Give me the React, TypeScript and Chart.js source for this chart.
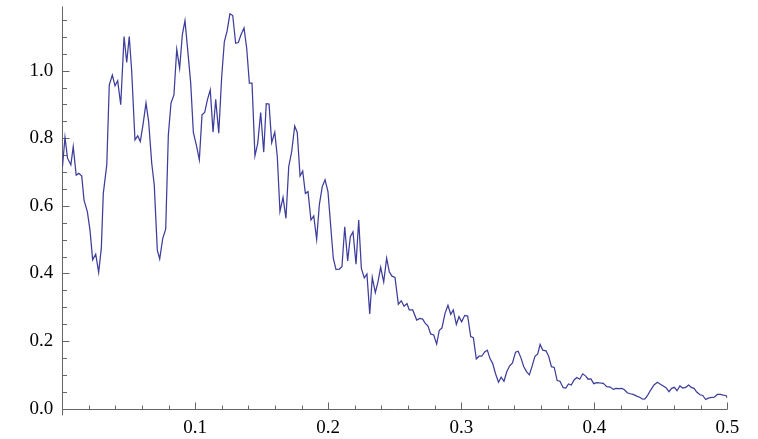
import React, { useEffect, useRef } from "react";
import { Chart, registerables } from "chart.js";

Chart.register(...registerables);

// ---- data ----
const xs: number[] = [
  0.0002, 0.0021, 0.0040, 0.0065, 0.0083, 0.0105, 0.0125, 0.0147, 0.0164, 0.0189,
  0.0209, 0.0229, 0.0252, 0.0274, 0.0294, 0.0309, 0.0335, 0.0354, 0.0377, 0.0397,
  0.0417, 0.0440, 0.0465, 0.0485, 0.0504, 0.0522, 0.0547, 0.0568, 0.0587, 0.0607,
  0.0630, 0.0650, 0.0673, 0.0692, 0.0715, 0.0733, 0.0756, 0.0778, 0.0798, 0.0818,
  0.0840, 0.0861, 0.0883, 0.0903, 0.0923, 0.0948, 0.0966, 0.0986, 0.1011, 0.1031,
  0.1051, 0.1071, 0.1091, 0.1113, 0.1134, 0.1154, 0.1177, 0.1199, 0.1219, 0.1239,
  0.1261, 0.1282, 0.1304, 0.1324, 0.1344, 0.1367, 0.1387, 0.1407, 0.1427, 0.1449,
  0.1470, 0.1492, 0.1515, 0.1534, 0.1555, 0.1575, 0.1598, 0.1617, 0.1637, 0.1660,
  0.1682, 0.1703, 0.1725, 0.1748, 0.1767, 0.1788, 0.1808, 0.1828, 0.1848, 0.1870,
  0.1891, 0.1913, 0.1933, 0.1955, 0.1976, 0.1998, 0.2019, 0.2038, 0.2058, 0.2083,
  0.2103, 0.2124, 0.2146, 0.2166, 0.2186, 0.2209, 0.2229, 0.2249, 0.2271, 0.2291,
  0.2312, 0.2331, 0.2354, 0.2374, 0.2394, 0.2417, 0.2439, 0.2459, 0.2479, 0.2502,
  0.2527, 0.2549, 0.2570, 0.2592, 0.2609, 0.2635, 0.2665, 0.2688, 0.2710, 0.2730,
  0.2750, 0.2770, 0.2793, 0.2815, 0.2835, 0.2855, 0.2878, 0.2900, 0.2921, 0.2940,
  0.2963, 0.2983, 0.3003, 0.3026, 0.3048, 0.3071, 0.3091, 0.3113, 0.3133, 0.3154,
  0.3176, 0.3196, 0.3216, 0.3236, 0.3257, 0.3280, 0.3300, 0.3321, 0.3342, 0.3363,
  0.3385, 0.3408, 0.3428, 0.3448, 0.3470, 0.3492, 0.3512, 0.3532, 0.3554, 0.3575,
  0.3593, 0.3613, 0.3637, 0.3657, 0.3678, 0.3699, 0.3721, 0.3742, 0.3766, 0.3786,
  0.3806, 0.3827, 0.3848, 0.3869, 0.3891, 0.3913, 0.3934, 0.3954, 0.3975, 0.3996,
  0.4017, 0.4039, 0.4068, 0.4094, 0.4120, 0.4143, 0.4163, 0.4186, 0.4208, 0.4227,
  0.4248, 0.4271, 0.4293, 0.4319, 0.4344, 0.4364, 0.4381, 0.4402, 0.4424, 0.4449,
  0.4474, 0.4494, 0.4519, 0.4539, 0.4562, 0.4582, 0.4602, 0.4622, 0.4644, 0.4665,
  0.4687, 0.4710, 0.4729, 0.4750, 0.4770, 0.4795, 0.4815, 0.4838, 0.4857, 0.4883,
  0.4902, 0.4925, 0.4947, 0.4970, 0.4990, 0.5000,
];

const ys: number[] = [
  0.716, 0.803, 0.741, 0.721, 0.775, 0.691, 0.696, 0.688, 0.617, 0.583,
  0.528, 0.440, 0.457, 0.403, 0.474, 0.637, 0.721, 0.958, 0.987, 0.955,
  0.970, 0.899, 1.101, 1.024, 1.101, 1.002, 0.795, 0.807, 0.790, 0.839,
  0.904, 0.849, 0.726, 0.662, 0.469, 0.443, 0.504, 0.531, 0.810, 0.904,
  0.928, 1.063, 1.007, 1.106, 1.148, 1.042, 0.963, 0.817, 0.775, 0.736,
  0.869, 0.876, 0.913, 0.943, 0.818, 0.915, 0.815, 0.982, 1.086, 1.116,
  1.168, 1.163, 1.081, 1.083, 1.106, 1.126, 1.066, 0.963, 0.963, 0.748,
  0.785, 0.876, 0.759, 0.902, 0.901, 0.787, 0.818, 0.746, 0.583, 0.625,
  0.563, 0.716, 0.760, 0.836, 0.817, 0.688, 0.703, 0.637, 0.642, 0.558,
  0.570, 0.501, 0.603, 0.657, 0.677, 0.642, 0.538, 0.445, 0.412, 0.413,
  0.420, 0.538, 0.437, 0.509, 0.523, 0.427, 0.558, 0.415, 0.387, 0.398,
  0.280, 0.388, 0.343, 0.375, 0.418, 0.375, 0.445, 0.405, 0.392, 0.388,
  0.309, 0.319, 0.303, 0.311, 0.292, 0.292, 0.262, 0.267, 0.265, 0.252,
  0.244, 0.221, 0.218, 0.191, 0.232, 0.239, 0.282, 0.306, 0.279, 0.292,
  0.249, 0.272, 0.257, 0.276, 0.274, 0.213, 0.210, 0.147, 0.155, 0.155,
  0.168, 0.173, 0.148, 0.134, 0.104, 0.078, 0.093, 0.081, 0.109, 0.126,
  0.135, 0.167, 0.170, 0.151, 0.124, 0.109, 0.100, 0.125, 0.155, 0.162,
  0.190, 0.173, 0.171, 0.155, 0.124, 0.122, 0.083, 0.081, 0.062, 0.061,
  0.073, 0.070, 0.085, 0.092, 0.087, 0.103, 0.097, 0.087, 0.088, 0.074,
  0.077, 0.076, 0.075, 0.065, 0.064, 0.057, 0.060, 0.059, 0.060, 0.056,
  0.047, 0.044, 0.042, 0.037, 0.033, 0.028, 0.029, 0.040, 0.055, 0.070,
  0.078, 0.073, 0.067, 0.062, 0.050, 0.060, 0.063, 0.053, 0.067, 0.061,
  0.063, 0.070, 0.063, 0.060, 0.049, 0.041, 0.039, 0.027, 0.031, 0.033,
  0.034, 0.042, 0.042, 0.040, 0.039, 0.032,
];

const xTickLabels: number[] = [0.1, 0.2, 0.3, 0.4, 0.5];
const yTickLabels: number[] = [0, 0.2, 0.4, 0.6, 0.8, 1.0];
const xMinorTicks: number[] = [
  0.02, 0.04, 0.06, 0.08, 0.12, 0.14, 0.16, 0.18, 0.22, 0.24, 0.26, 0.28,
  0.32, 0.34, 0.36, 0.38, 0.42, 0.44, 0.46, 0.48,
];
const yMinorTicks: number[] = [
  0.05, 0.1, 0.15, 0.25, 0.3, 0.35, 0.45, 0.5, 0.55, 0.65, 0.7, 0.75, 0.85, 0.9,
  0.95, 1.05, 1.1, 1.15,
];

const X_MIN = 0;
const X_MAX = 0.5;
const Y_MIN = -0.02;
const Y_MAX = 1.19;

const LINE_COLOR = "#3d3d9c";
const AXIS_COLOR = "#666666";
const FONT_FAMILY = "'Liberation Serif', 'DejaVu Serif', serif";

const axesPlugin = {
  id: "mmaAxes",
  beforeDatasetsDraw(chart: any) {
    const { ctx } = chart;
    const xs_ = chart.scales.x;
    const ys_ = chart.scales.y;
    const xa = Math.round(xs_.getPixelForValue(0)) + 0.5;
    const ya = Math.round(ys_.getPixelForValue(0)) + 0.5;
    ctx.save();
    ctx.strokeStyle = AXIS_COLOR;
    ctx.lineWidth = 1;
    ctx.beginPath();
    ctx.moveTo(xs_.getPixelForValue(X_MIN), ya);
    ctx.lineTo(xs_.getPixelForValue(X_MAX), ya);
    ctx.moveTo(xa, ys_.getPixelForValue(Y_MAX));
    ctx.lineTo(xa, ys_.getPixelForValue(Y_MIN));
    xTickLabels.forEach((v) => {
      const p = Math.round(xs_.getPixelForValue(v)) + 0.5;
      ctx.moveTo(p, ya);
      ctx.lineTo(p, ya - 7);
    });
    xMinorTicks.forEach((v) => {
      const p = Math.round(xs_.getPixelForValue(v)) + 0.5;
      ctx.moveTo(p, ya);
      ctx.lineTo(p, ya - 4);
    });
    yTickLabels.forEach((v) => {
      const p = Math.round(ys_.getPixelForValue(v)) + 0.5;
      ctx.moveTo(xa, p);
      ctx.lineTo(xa + 7, p);
    });
    yMinorTicks.forEach((v) => {
      const p = Math.round(ys_.getPixelForValue(v)) + 0.5;
      ctx.moveTo(xa, p);
      ctx.lineTo(xa + 4.5, p);
    });
    ctx.stroke();
    ctx.restore();
  },
};

export default function App() {
  const canvasRef = useRef<HTMLCanvasElement | null>(null);

  useEffect(() => {
    const canvas = canvasRef.current;
    if (!canvas) return;
    const points = xs.map((x, i) => ({ x, y: ys[i] }));
    const chart = new Chart(canvas, {
      type: "line",
      data: {
        datasets: [
          {
            data: points,
            borderColor: LINE_COLOR,
            borderWidth: 1.25,
            pointRadius: 0,
            tension: 0,
            fill: false,
          },
        ],
      },
      options: {
        animation: false,
        responsive: false,
        devicePixelRatio: 1,
        layout: { padding: { top: 6.4, right: 30.7, left: 0, bottom: 0 } },
        plugins: {
          legend: { display: false },
          tooltip: { enabled: false },
        },
        scales: {
          x: {
            type: "linear",
            min: X_MIN,
            max: X_MAX,
            grid: { display: false, drawTicks: false },
            border: { display: false },
            afterBuildTicks: (scale: any) => {
              scale.ticks = xTickLabels.map((v) => ({ value: v }));
            },
            afterFit: (scale: any) => {
              scale.height = 23.6;
              scale.paddingLeft = 0;
              scale.paddingRight = 0;
            },
            ticks: {
              color: "#000",
              padding: 1.5,
              maxRotation: 0,
              autoSkip: false,
              font: { family: FONT_FAMILY, size: 19, lineHeight: 1.2 },
              callback: (v: any) => Number(v).toFixed(1),
            },
          },
          y: {
            type: "linear",
            min: Y_MIN,
            max: Y_MAX,
            grid: { display: false, drawTicks: false },
            border: { display: false },
            afterBuildTicks: (scale: any) => {
              scale.ticks = yTickLabels.map((v) => ({ value: v }));
            },
            afterFit: (scale: any) => {
              scale.width = 62.2;
              scale.paddingTop = 0;
              scale.paddingBottom = 0;
            },
            ticks: {
              color: "#000",
              padding: 9,
              autoSkip: false,
              font: { family: FONT_FAMILY, size: 19, lineHeight: 1.2 },
              callback: (v: any) => Number(v).toFixed(1),
            },
          },
        },
      },
      plugins: [axesPlugin],
    });
    return () => chart.destroy();
  }, []);

  return (
    <div
      style={{
        position: "fixed",
        left: 0,
        top: 0,
        width: 758,
        height: 439,
        background: "#fff",
      }}
    >
      <canvas ref={canvasRef} width={758} height={439} style={{ width: 758, height: 439, display: "block" }} />
    </div>
  );
}
